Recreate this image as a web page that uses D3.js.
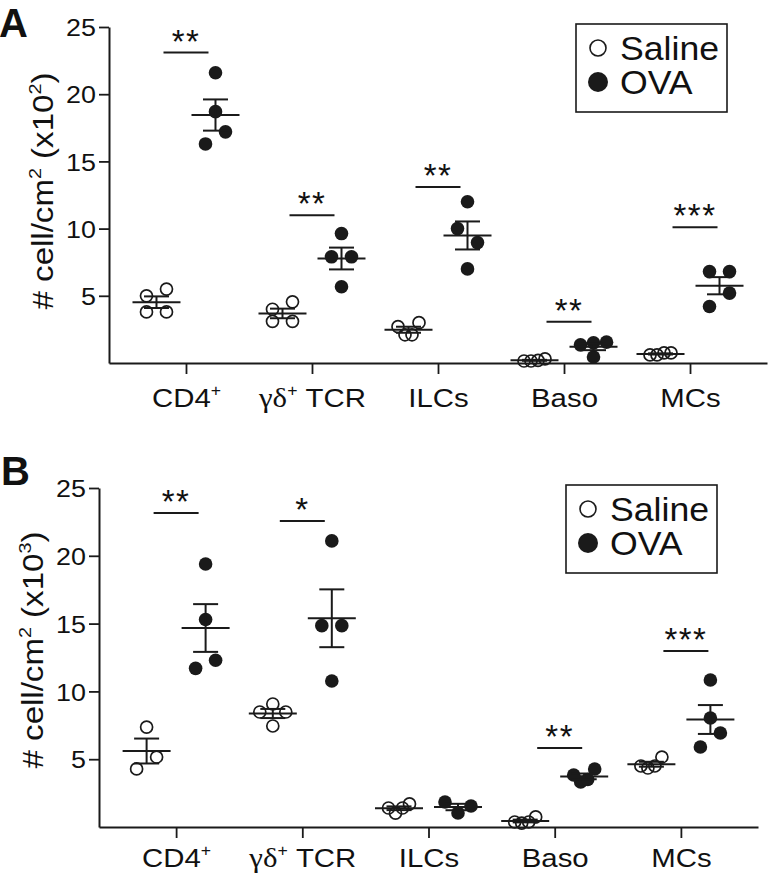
<!DOCTYPE html>
<html><head><meta charset="utf-8">
<script src="https://cdn.jsdelivr.net/npm/d3@7"></script>
<style>
body{margin:0;background:#fff;}
svg{display:block;}
text{font-family:"Liberation Sans",Arial,Helvetica,sans-serif;fill:#111;}
</style></head><body>
<svg id="chart" width="771" height="877"></svg>
<script>
// ---------------- data ----------------
const categories = ["CD4+", "γδ+ TCR", "ILCs", "Baso", "MCs"];
const groupNames = ["Saline", "OVA"];
const yTickValues = [5, 10, 15, 20, 25];
const yDomain = [0, 25];

// Panel A (x10^2 cells/cm2)
const salineA = [[5.0, 5.5, 3.8, 3.8], [4.0, 4.55, 3.1, 3.1], [2.1, 2.1, 2.7, 3.0], [0.15, 0.2, 0.15, 0.3], [0.6, 0.75, 0.6, 0.75]];
const ovaA    = [[21.6, 18.7, 16.3, 17.2], [9.63, 7.9, 7.9, 5.67], [12.0, 10.0, 8.96, 7.0], [1.5, 1.35, 1.55, 0.45], [6.8, 6.8, 4.2, 5.2]];
const sigA      = ["**", "**", "**", "**", "***"];
const sigLevelA = [23.1, 11.0, 13.1, 3.06, 10.1];

// Panel B (x10^3 cells/cm2)
const salineB = [[7.37, 4.28, 5.16], [9.07, 8.48, 8.48, 7.45], [1.03, 1.4, 1.4, 1.7], [0.29, 0.37, 0.37, 0.74], [4.35, 4.5, 4.5, 5.16]];
const ovaB    = [[19.4, 15.3, 11.7, 12.3], [21.1, 14.85, 14.85, 10.77], [1.03, 1.84, 1.55], [3.32, 3.5, 3.83, 4.28], [10.84, 8.04, 5.9, 6.93]];
const sigB      = ["**", "*", "", "**", "***"];
const sigLevelB = [23.16, 22.57, null, 5.83, 12.98];

const panelLetters = ["A", "B"];
const yLabelExponents = ["2", "3"];

// ---------------- layout ----------------
const panels = [
  {letter: panelLetters[0], saline: salineA, ova: ovaA, sig: sigA, sigAt: sigLevelA, exp: yLabelExponents[0],
   x0: 109, x1: 767, yTop: 27, yBot: 363, catDy: 44, ylabCx: 191, letterY: 37, letterX: -1},
  {letter: panelLetters[1], saline: salineB, ova: ovaB, sig: sigB, sigAt: sigLevelB, exp: yLabelExponents[1],
   x0: 99, x1: 758, yTop: 488, yBot: 827, catDy: 40, ylabCx: 650, letterY: 485, letterX: 1}
];

const svg = d3.select("#chart");
const INK = "#1a1a1a";
const R = 6.0;          // point radius
const GROUP_OFF = 29.5; // saline / OVA offset from category
const MEAN_W = 24, CAP_W = 12.5;

// GraphPad-like row layout: points whose pixel y lie within ROW_DY of a row's top point
// share a row and are spread side by side around the group centre.
const ROW_DY = 14.5;
const ROW_SPACING = {1: 0, 2: 20, 3: 13, 4: 7};
function rowLayout(vals, y) {
  const pts = vals.map((v, i) => ({v, i, y: y(v), dx: 0}));
  const sorted = pts.slice().sort((a, b) => a.y - b.y);
  const rows = [];
  sorted.forEach(p => {
    const last = rows[rows.length - 1];
    if (last && p.y - last[0].y < ROW_DY) last.push(p); else rows.push([p]);
  });
  rows.forEach(row => {
    row.sort((a, b) => a.i - b.i);
    const n = row.length, s = ROW_SPACING[n] != null ? ROW_SPACING[n] : 28 / (n - 1);
    const slots = d3.range(n).map(k => (k - (n - 1) / 2) * s)
      .sort((a, b) => (Math.abs(a) - Math.abs(b)) || (a - b));
    row.forEach((p, k) => p.dx = slots[k]);
  });
  return pts;
}

function addSupText(sel, parts, fs) {
  let raised = false;
  parts.forEach(p => {
    const ts = sel.append("tspan").text(p.t);
    if (p.serif) ts.style("font-family", "'Liberation Serif','Times New Roman',serif").attr("font-size", fs * 1.05);
    if (p.sup && !raised) { ts.attr("font-size", fs * 0.6).attr("dy", -fs * 0.42); raised = true; }
    else if (!p.sup && raised) { ts.attr("dy", fs * 0.42); raised = false; }
    else if (p.sup) ts.attr("font-size", fs * 0.6);
  });
}

function catParts(c) {
  if (c === "γδ+ TCR") return [{t: "γδ", serif: true}, {t: "+", sup: true}, {t: " TCR"}];
  if (c.endsWith("+")) return [{t: c.slice(0, -1)}, {t: "+", sup: true}];
  return [{t: c}];
}

panels.forEach(P => {
  const x = d3.scalePoint().domain(categories).range([P.x0, P.x1]).padding(0.611);
  const y = d3.scaleLinear().domain(yDomain).range([P.yBot, P.yTop]);
  const g = svg.append("g");

  // y axis
  const ya = g.append("g").attr("transform", `translate(${P.x0},0)`)
    .call(d3.axisLeft(y).tickValues(yTickValues).tickSize(10).tickSizeOuter(0));
  ya.select(".domain").attr("stroke", INK).attr("stroke-width", 2);
  ya.selectAll(".tick line").attr("stroke", INK).attr("stroke-width", 1.8);
  ya.selectAll(".tick text").attr("x", 0).attr("dy", "0.36em")
    .attr("transform", "translate(-13,0) scale(1.12,1)")
    .attr("font-size", 24).attr("fill", INK)
    .style("font-family", "'Liberation Sans',Arial,sans-serif");

  // x axis
  const xa = g.append("g").attr("transform", `translate(0,${P.yBot})`)
    .call(d3.axisBottom(x).tickSize(11).tickSizeOuter(0).tickFormat(() => ""));
  xa.select(".domain").attr("stroke", INK).attr("stroke-width", 2);
  xa.selectAll(".tick line").attr("stroke", INK).attr("stroke-width", 1.8);
  xa.selectAll(".tick").each(function(c) {
    const t = d3.select(this).append("text")
      .attr("text-anchor", "middle").attr("font-size", 26).attr("fill", INK)
      .attr("transform", `translate(0,${P.catDy}) scale(1.13,1)`)
      .style("font-family", "'Liberation Sans',Arial,sans-serif");
    addSupText(t, catParts(c), 26);
  });

  // y label
  const yl = g.append("text")
    .attr("transform", `translate(${P.x0 - 56},${P.ylabCx}) rotate(-90) scale(1.14,1)`)
    .attr("text-anchor", "middle").attr("font-size", 29).attr("fill", INK);
  addSupText(yl, [{t: "# cell/cm"}, {t: "2", sup: true}, {t: " (x10"}, {t: P.exp, sup: true}, {t: ")"}], 29);

  // panel letter
  g.append("text").attr("x", P.letterX).attr("y", P.letterY)
    .attr("font-size", 40).attr("font-weight", "bold").attr("fill", INK).text(P.letter);

  // points + mean/SEM
  [P.saline, P.ova].forEach((gd, gi) => {
    gd.forEach((vals, ci) => {
      const cx = x(categories[ci]) + (gi === 0 ? -GROUP_OFF : GROUP_OFF);
      const pts = rowLayout(vals, y);
      g.append("g").selectAll("circle").data(pts).join("circle")
        .attr("cx", d => cx + d.dx).attr("cy", d => d.y).attr("r", gi === 0 ? R : R + 0.8)
        .attr("fill", gi === 0 ? "none" : INK)
        .attr("stroke", INK).attr("stroke-width", gi === 0 ? 1.7 : 0);
      const mean = d3.mean(vals);
      const sem = d3.deviation(vals) / Math.sqrt(vals.length);
      const eb = g.append("g").attr("stroke", INK).attr("stroke-width", 2).attr("fill", "none");
      eb.append("line").attr("x1", cx - MEAN_W).attr("x2", cx + MEAN_W).attr("y1", y(mean)).attr("y2", y(mean));
      eb.append("line").attr("x1", cx).attr("x2", cx).attr("y1", y(mean + sem)).attr("y2", y(mean - sem));
      [mean + sem, mean - sem].forEach(v =>
        eb.append("line").attr("x1", cx - CAP_W).attr("x2", cx + CAP_W).attr("y1", y(v)).attr("y2", y(v)));
    });
  });

  // significance
  categories.forEach((c, ci) => {
    if (!P.sig[ci]) return;
    const cx = x(c) + (ci >= 3 ? 5 : 0), yy = y(P.sigAt[ci]);
    g.append("line").attr("x1", cx - 22.5).attr("x2", cx + 22.5).attr("y1", yy).attr("y2", yy)
      .attr("stroke", INK).attr("stroke-width", 2);
    g.append("text").attr("x", cx).attr("y", yy).attr("text-anchor", "middle")
      .attr("font-size", 33).attr("letter-spacing", 1.5).attr("fill", INK).text(P.sig[ci]);
  });

  // legend
  const lx = P.x0 + 467, ly = P.yTop - 3;
  const lg = g.append("g").attr("transform", `translate(${lx},${ly})`);
  lg.append("rect").attr("width", 151).attr("height", 88).attr("fill", "#fff")
    .attr("stroke", INK).attr("stroke-width", 1.6);
  groupNames.forEach((n, i) => {
    const cy = i === 0 ? 24 : 58;
    lg.append("circle").attr("cx", 22).attr("cy", cy).attr("r", i === 0 ? 8 : 10)
      .attr("fill", i === 0 ? "#fff" : INK).attr("stroke", INK).attr("stroke-width", i === 0 ? 1.6 : 0);
    lg.append("text").attr("transform", `translate(44,${cy + 11.5}) scale(1.08,1)`)
      .attr("font-size", 33).attr("fill", INK).text(n);
  });
});
</script>
</body></html>
